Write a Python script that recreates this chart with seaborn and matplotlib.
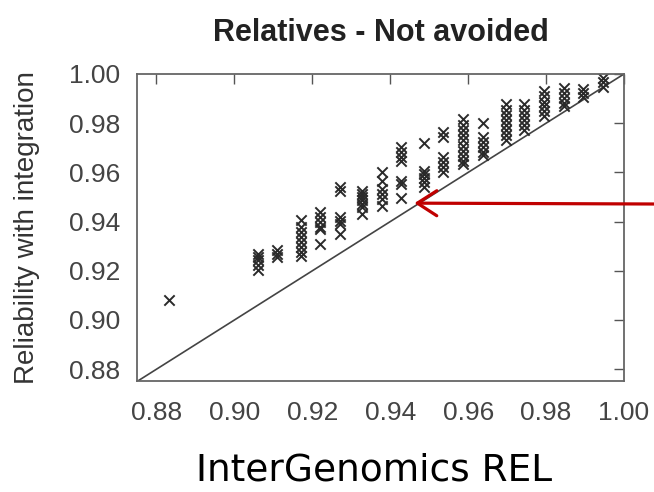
import numpy as np
import pandas as pd
import matplotlib
matplotlib.use("Agg")
import matplotlib.pyplot as plt
import seaborn as sns

# reliability values, one column of crosses per x value
col_x = [0.8831, 0.9060, 0.9110, 0.9170, 0.9219, 0.9270, 0.9328, 0.9379, 0.9427,
         0.9486, 0.9536, 0.9588, 0.9637, 0.9696, 0.9743, 0.9795, 0.9845, 0.9894, 0.9945]
col_y = [
    [0.9080],
    [0.9269, 0.9256, 0.9242, 0.9222, 0.9202],
    [0.9283, 0.9269, 0.9256],
    [0.9407, 0.9377, 0.9357, 0.9337, 0.9316, 0.9296, 0.9276, 0.9262],
    [0.9438, 0.9418, 0.9398, 0.9377, 0.9371, 0.9310],
    [0.9540, 0.9526, 0.9418, 0.9404, 0.9391, 0.9350],
    [0.9526, 0.9513, 0.9499, 0.9486, 0.9472, 0.9458, 0.9432],
    [0.9601, 0.9567, 0.9533, 0.9513, 0.9493, 0.9465],
    [0.9702, 0.9682, 0.9661, 0.9645, 0.9567, 0.9553, 0.9495],
    [0.9718, 0.9607, 0.9594, 0.9578, 0.9560, 0.9542],
    [0.9763, 0.9745, 0.9661, 0.9641, 0.9621, 0.9601],
    [0.9817, 0.9794, 0.9772, 0.9753, 0.9732, 0.9709, 0.9688, 0.9668, 0.9648, 0.9634],
    [0.9799, 0.9742, 0.9722, 0.9702, 0.9682, 0.9671],
    [0.9878, 0.9855, 0.9835, 0.9814, 0.9794, 0.9774, 0.9753, 0.9733],
    [0.9878, 0.9855, 0.9835, 0.9814, 0.9794, 0.9774],
    [0.9932, 0.9909, 0.9888, 0.9868, 0.9848, 0.9828],
    [0.9943, 0.9922, 0.9902, 0.9882, 0.9868],
    [0.9940, 0.9922, 0.9905],
    [0.9983, 0.9967, 0.9949],
]
x_ticks = [0.88, 0.90, 0.92, 0.94, 0.96, 0.98, 1.00]
y_ticks = [0.88, 0.90, 0.92, 0.94, 0.96, 0.98, 1.00]
lims = [0.875, 1.0]
arrow_tip = (0.9462, 0.9475)

rows = [(x, y) for x, ys in zip(col_x, col_y) for y in ys]
df = pd.DataFrame(rows, columns=["intergenomics", "integration"])

sns.set_style("white")
plt.rcParams["font.family"] = ["Liberation Sans", "DejaVu Sans"]

fig = plt.figure(figsize=(6.54, 4.92), dpi=100)
ax = fig.add_axes([0.2095, 0.2246, 0.7446, 0.625])

ax.plot(lims, lims, color="#444444", lw=1.2, zorder=1)
sns.scatterplot(data=df, x="intergenomics", y="integration", marker="x",
                color="#2a2a2a", s=55, linewidth=1.4, ax=ax, zorder=2)

ax.set_xlim(lims)
ax.set_ylim(lims)
ax.set_xticks(x_ticks)
ax.set_yticks(y_ticks)
ax.set_xticklabels([f"{t:.2f}" for t in x_ticks])
ax.set_yticklabels([f"{t:.2f}" for t in y_ticks])
ax.tick_params(direction="in", length=7, width=1, color="#555555",
               top=True, right=True, labelsize=19, labelcolor="#444444")
ax.tick_params(axis="x", pad=14)
ax.tick_params(axis="y", pad=12)
for sp in ax.spines.values():
    sp.set_visible(True)
    sp.set_color("#666666")
    sp.set_linewidth(1.3)

ax.set_xlabel("")
ax.set_ylabel("Reliability with integration", fontsize=20, color="#333333")
ax.yaxis.set_label_coords(-0.2, 0.5)
ax.set_title("Relatives - Not avoided", fontsize=22, fontweight="bold",
             color="#222222", pad=24)

fig.text(0.572, 0.024, "InterGenomics REL", fontsize=27, color="black",
         family="DejaVu Sans", ha="center", va="baseline")

ax.annotate("", xy=arrow_tip, xycoords="data",
            xytext=(1.0, 1 - 204 / 492), textcoords="figure fraction",
            arrowprops=dict(arrowstyle="->,head_length=0.7,head_width=0.45",
                            color="#c00000", lw=2.3, mutation_scale=20,
                            shrinkA=0, shrinkB=0),
            annotation_clip=False)

fig.savefig("out.png", dpi=100, facecolor="white")
